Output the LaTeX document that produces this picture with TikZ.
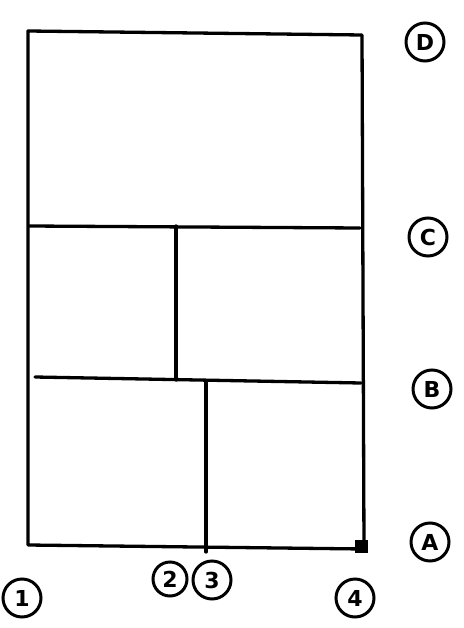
\documentclass[tikz,border=0pt]{standalone}
\usepackage{fontspec}
\setmainfont{DejaVu Sans}
\begin{document}
\begin{tikzpicture}[x=1pt,y=-1pt,
  wall/.style={line width=3.3pt, line cap=round, line join=round},
  tag/.style={circle, draw, line width=3pt, minimum size=38pt, inner sep=0pt, font=\fontsize{22}{22}\selectfont\bfseries}]
\useasboundingbox (0,0) rectangle (463,628);
% grid corners
\coordinate (d1) at (28,31);
\coordinate (d4) at (362,35);
\coordinate (c1) at (29,226);
\coordinate (c4) at (360,228);
\coordinate (b1) at (35,377);
\coordinate (b4) at (361,383);
\coordinate (a1) at (28,545);
\coordinate (a4) at (364,549);
\coordinate (cm) at (176,226);
\coordinate (bm) at (176,380);
\coordinate (bn) at (206,381);
\coordinate (an) at (206,552);
% walls
\draw[wall] (a1) -- (d1) -- (d4) -- (a4) -- cycle;
\draw[wall] (c1) -- (c4);
\draw[wall] (b1) -- (b4);
\draw[wall] (cm) -- (bm);
\draw[wall] (bn) -- (an);
\fill (a4) ++(-9,-9) rectangle ++(13,13);
% labels
\node[tag] (D) at (425,42) {D};
\node[tag] (C) at (428,237) {C};
\node[tag] (B) at (432,389) {B};
\node[tag] (A) at (430,542) {A};
\node[tag] (n1) at (22,598) {1};
\node[tag, minimum size=34pt] (n2) at (170,579) {2};
\node[tag] (n3) at (212,580) {3};
\node[tag] (n4) at (355,598) {4};
\end{tikzpicture}
\end{document}
